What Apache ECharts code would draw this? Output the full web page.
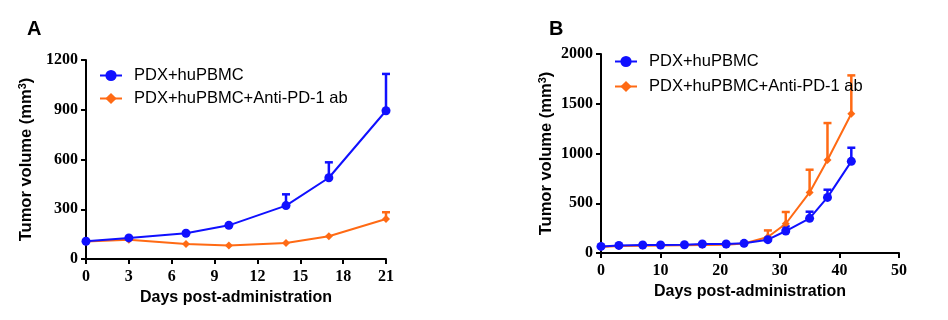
<!DOCTYPE html>
<html>
<head>
<meta charset="utf-8">
<script src="https://cdn.jsdelivr.net/npm/echarts@6/dist/echarts.min.js"></script>
<style>html,body{margin:0;padding:0;background:#fff}#c{width:948px;height:320px}</style>
</head>
<body>
<div id="c"></div>
<script>
// ---- data ----
var seriesNames = ['PDX+huPBMC', 'PDX+huPBMC+Anti-PD-1 ab'];
var xTitle = 'Days post-administration';

var daysA = [0, 3, 7, 10, 14, 17, 21];
var ctrlA = [107, 127, 155, 203, 322, 490, 894];
var ctrlErrA = [0, 0, 0, 0, 68, 93, 222];
var pd1A = [105, 116, 90, 82, 96, 137, 241];
var pd1ErrA = [0, 0, 0, 0, 0, 0, 41];

var daysB = [0, 3, 7, 10, 14, 17, 21, 24, 28, 31, 35, 38, 42];
var ctrlB = [66, 76, 80, 80, 83, 90, 90, 97, 134, 221, 348, 559, 921];
var ctrlErrB = [0, 0, 0, 0, 0, 0, 0, 0, 0, 46, 67, 77, 137];
var pd1B = [60, 70, 73, 75, 78, 80, 83, 95, 161, 294, 609, 934, 1400];
var pd1ErrB = [0, 0, 0, 0, 0, 0, 0, 0, 66, 118, 228, 372, 385];

var BLUE = '#1010ff';
var ORANGE = '#ff6a14';

function pairs(xs, ys) { return xs.map(function (x, i) { return [x, ys[i]]; }); }
function triples(xs, ys, es) { return xs.map(function (x, i) { return [x, ys[i], es[i]]; }); }

function errSeries(xi, xs, ys, es, color) {
  return {
    type: 'custom', xAxisIndex: xi, yAxisIndex: xi, z: 1,
    data: triples(xs, ys, es),
    encode: { x: 0, y: [1, 2] },
    renderItem: function (params, api) {
      var x = api.value(0), m = api.value(1), e = api.value(2);
      if (!e) return null;
      var p0 = api.coord([x, m]);
      var p1 = api.coord([x, m + e]);
      var st = { stroke: color, lineWidth: 2.5 };
      return {
        type: 'group', children: [
          { type: 'line', shape: { x1: p0[0], y1: p0[1], x2: p1[0], y2: p1[1] }, style: st },
          { type: 'line', shape: { x1: p1[0] - 4, y1: p1[1], x2: p1[0] + 4, y2: p1[1] }, style: st }
        ]
      };
    }
  };
}

function lineSeries(name, xi, xs, ys, color, symbol, size) {
  return {
    name: name, type: 'line', xAxisIndex: xi, yAxisIndex: xi, z: 3,
    data: pairs(xs, ys), symbol: symbol, symbolSize: size,
    showAllSymbol: true,
    lineStyle: { color: color, width: 2 },
    itemStyle: { color: color },
    emphasis: { disabled: true },
    animation: false
  };
}

var tickFont = { fontFamily: 'Liberation Serif', fontWeight: 'bold', fontSize: 16, color: '#000', formatter: function (v) { return String(v); } };
var titleFont = { fontFamily: 'Liberation Sans', fontWeight: 'bold', fontSize: 16, color: '#000' };
var axisLine = { show: true, onZero: false, lineStyle: { color: '#000', width: 2 } };
var axisTick = { show: true, inside: false, length: 5, lineStyle: { color: '#000', width: 2 } };

function xAx(gi, max, interval) {
  return {
    type: 'value', gridIndex: gi, min: 0, max: max, interval: interval,
    name: xTitle, nameLocation: 'middle', nameGap: 28, nameTextStyle: titleFont,
    axisLine: axisLine, axisTick: axisTick, splitLine: { show: false },
    axisLabel: Object.assign({ margin: 10 }, tickFont)
  };
}
function yAx(gi, max, interval, gap) {
  return {
    type: 'value', gridIndex: gi, min: 0, max: max, interval: interval,
    name: '{a|Tumor volume (mm}{s|3}{a|)}', nameLocation: 'middle', nameGap: gap,
    nameTextStyle: Object.assign({}, titleFont, {
      rich: {
        a: { fontFamily: 'Liberation Sans', fontWeight: 'bold', fontSize: 16.5, color: '#000', lineHeight: 19 },
        s: { fontFamily: 'Liberation Sans', fontWeight: 'bold', fontSize: 11, color: '#000', verticalAlign: 'top', lineHeight: 19, padding: [0, 0, 8, 0] }
      }
    }),
    axisLine: axisLine, axisTick: axisTick, splitLine: { show: false },
    axisLabel: Object.assign({ margin: 8 }, tickFont)
  };
}

var legendText = { fontFamily: 'Liberation Sans', fontSize: 16.5, color: '#000', padding: [0, 0, 0, 7] };

var option = {
  backgroundColor: '#fff',
  animation: false,
  title: [
    { text: 'A', left: 27, top: 19, padding: 0, textStyle: { fontFamily: 'Liberation Sans', fontWeight: 'bold', fontSize: 20, color: '#000' } },
    { text: 'B', left: 549, top: 19, padding: 0, textStyle: { fontFamily: 'Liberation Sans', fontWeight: 'bold', fontSize: 20, color: '#000' } }
  ],
  legend: [
    { data: seriesNames, orient: 'vertical', left: 99, top: 67, padding: 0, itemWidth: 22, itemHeight: 14, itemGap: 6, textStyle: legendText, selectedMode: false },
    { data: seriesNames, orient: 'vertical', left: 614, top: 53, padding: 0, itemWidth: 22, itemHeight: 14, itemGap: 8, textStyle: legendText, selectedMode: false }
  ],
  grid: [
    { left: 86, top: 60, width: 300, height: 199 },
    { left: 601, top: 54, width: 298, height: 199 }
  ],
  xAxis: [xAx(0, 21, 3), xAx(1, 50, 10)],
  yAxis: [yAx(0, 1200, 300, 50), yAx(1, 2000, 500, 45)],
  series: [
    errSeries(0, daysA, pd1A, pd1ErrA, ORANGE),
    lineSeries(seriesNames[1], 0, daysA, pd1A, ORANGE, 'diamond', 8),
    errSeries(0, daysA, ctrlA, ctrlErrA, BLUE),
    lineSeries(seriesNames[0], 0, daysA, ctrlA, BLUE, 'circle', 9),
    errSeries(1, daysB, pd1B, pd1ErrB, ORANGE),
    lineSeries(seriesNames[1], 1, daysB, pd1B, ORANGE, 'diamond', 8),
    errSeries(1, daysB, ctrlB, ctrlErrB, BLUE),
    lineSeries(seriesNames[0], 1, daysB, ctrlB, BLUE, 'circle', 9)
  ]
};
echarts.init(document.getElementById('c')).setOption(option);
</script>
</body>
</html>
